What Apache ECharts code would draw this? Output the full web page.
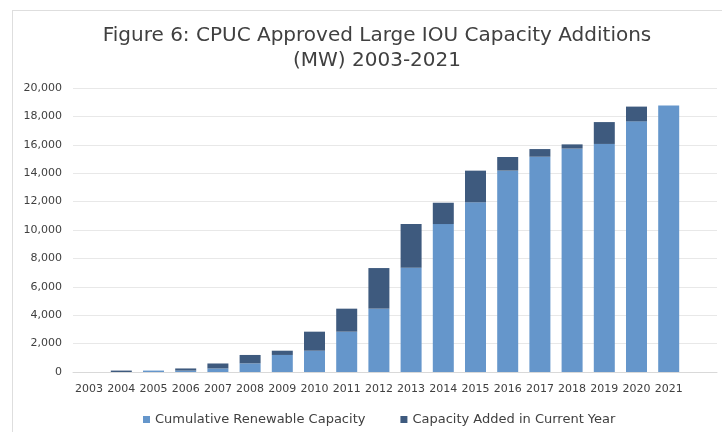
<!DOCTYPE html>
<html>
<head>
<meta charset="utf-8">
<script src="https://cdn.jsdelivr.net/npm/echarts@6/dist/echarts.min.js"></script>
<style>html,body{margin:0;padding:0;background:#fff;}#c{width:722px;height:432px;}</style>
</head>
<body>
<div id="c"></div>
<script>
// Categories (the trailing blank slot mirrors the empty space at the right of the source plot)
const years = ['2003','2004','2005','2006','2007','2008','2009','2010','2011','2012','2013','2014','2015','2016','2017','2018','2019','2020','2021',''];
// Cumulative Renewable Capacity (MW)
const cumulative = [0, 0, 100, 100, 250, 610, 1200, 1500, 2840, 4460, 7350, 10420, 11950, 14180, 15160, 15730, 16060, 17650, 18760, null];
// Capacity Added in Current Year (MW)
const added = [0, 100, 0, 150, 350, 590, 300, 1340, 1620, 2860, 3070, 1500, 2230, 960, 540, 300, 1540, 1040, 0, null];
const yTicks = {min: 0, max: 20000, interval: 2000};

const chart = echarts.init(document.getElementById('c'), null, {renderer: 'canvas'});
const txt = '#404040';
chart.setOption({
  animation: false,
  backgroundColor: '#fff',
  title: {
    text: 'Figure 6: CPUC Approved Large IOU Capacity Additions\n(MW) 2003-2021',
    left: 372, top: 18, textAlign: 'center',
    textStyle: {fontFamily: 'DejaVu Sans', fontSize: 20, fontWeight: 'normal', color: txt, lineHeight: 25}
  },
  graphic: [
    {type: 'line', shape: {x1: 12.5, y1: 10, x2: 12.5, y2: 432}, style: {stroke: '#dedede', lineWidth: 1}},
    {type: 'line', shape: {x1: 12, y1: 10.5, x2: 722, y2: 10.5}, style: {stroke: '#dedede', lineWidth: 1}}
  ],
  legend: {
    left: 138, top: 408,
    itemWidth: 7, itemHeight: 7, itemGap: 35,
    icon: 'rect',
    textStyle: {fontFamily: 'DejaVu Sans', fontSize: 13, color: txt},
    data: ['Cumulative Renewable Capacity', 'Capacity Added in Current Year']
  },
  grid: {left: 73, right: 5, top: 88, bottom: 60, containLabel: false},
  xAxis: {
    type: 'category', data: years,
    axisLine: {lineStyle: {color: '#d9d9d9'}},
    axisTick: {show: false},
    axisLabel: {interval: 0, margin: 12, fontFamily: 'DejaVu Sans', fontSize: 11, color: txt}
  },
  yAxis: {
    type: 'value', min: yTicks.min, max: yTicks.max, interval: yTicks.interval,
    axisLine: {show: false}, axisTick: {show: false},
    splitLine: {lineStyle: {color: '#e8e8e8'}},
    axisLabel: {margin: 11, fontFamily: 'DejaVu Sans', fontSize: 11, color: txt,
      formatter: v => v.toLocaleString('en-US')}
  },
  series: [
    {name: 'Cumulative Renewable Capacity', type: 'bar', stack: 'a', data: cumulative, barWidth: 21,
     itemStyle: {color: '#6596cb'}},
    {name: 'Capacity Added in Current Year', type: 'bar', stack: 'a', data: added, barWidth: 21,
     itemStyle: {color: '#3e5a7e'}}
  ]
});
</script>
</body>
</html>
